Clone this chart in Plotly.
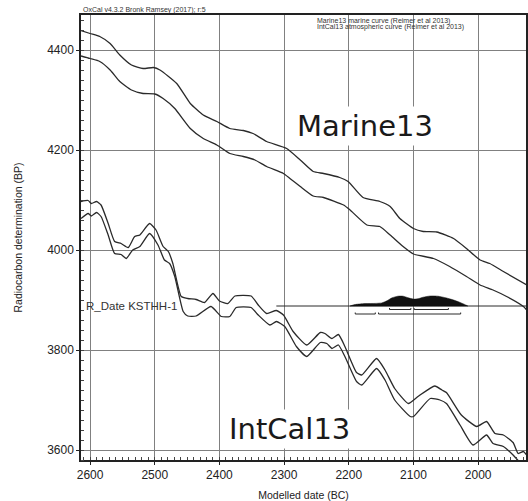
import plotly.graph_objects as go

# ---- data ----
marine_up_date = [2614, 2600, 2585, 2569, 2554, 2536, 2518, 2502, 2492, 2466, 2445, 2425, 2404, 2384, 2363, 2348,
                  2327, 2296, 2275, 2255, 2239, 2214, 2201, 2178, 2152, 2136, 2121, 2100, 2085, 2064, 2038, 2018,
                  1997, 1982, 1961, 1925]
marine_up_bp = [4439, 4433, 4427, 4413, 4390, 4370, 4363, 4365, 4360, 4333, 4293, 4270, 4257, 4243, 4239, 4233,
                4217, 4203, 4180, 4157, 4153, 4145, 4137, 4105, 4097, 4087, 4063, 4043, 4037, 4036, 4023, 4003,
                3980, 3973, 3957, 3930]
marine_lo_date = [2614, 2600, 2585, 2569, 2554, 2536, 2518, 2500, 2487, 2469, 2445, 2425, 2404, 2384, 2363, 2345,
                  2327, 2301, 2291, 2275, 2255, 2239, 2208, 2198, 2172, 2152, 2136, 2116, 2100, 2069, 2044, 2018,
                  1997, 1977, 1956, 1930, 1925]
marine_lo_bp = [4388, 4383, 4377, 4360, 4337, 4320, 4313, 4312, 4303, 4283, 4243, 4223, 4210, 4193, 4187, 4180,
                4167, 4153, 4143, 4127, 4108, 4105, 4090, 4080, 4050, 4047, 4030, 4007, 3992, 3983, 3967, 3947,
                3930, 3920, 3907, 3887, 3880]
intcal_up_date = [2614, 2603, 2598, 2590, 2583, 2572, 2562, 2552, 2541, 2531, 2523, 2508, 2498, 2487, 2479, 2472,
                  2459, 2449, 2436, 2423, 2410, 2400, 2387, 2376, 2351, 2340, 2327, 2312, 2301, 2286, 2265, 2244,
                  2237, 2226, 2216, 2206, 2188, 2180, 2157, 2144, 2129, 2108, 2093, 2067, 2056, 2049, 2026, 2002,
                  1987, 1974, 1961, 1946, 1938, 1930, 1925]
intcal_up_bp = [4097, 4099, 4093, 4097, 4090, 4053, 4017, 4013, 4005, 4027, 4030, 4053, 4040, 4007, 3997, 3973,
                3907, 3903, 3901, 3895, 3913, 3898, 3893, 3908, 3908, 3890, 3873, 3879, 3870, 3837, 3810, 3835,
                3833, 3823, 3831, 3807, 3755, 3750, 3783, 3760, 3723, 3693, 3707, 3728, 3720, 3715, 3670, 3647,
                3657, 3633, 3630, 3615, 3593, 3597, 3590]
intcal_lo_date = [2614, 2603, 2598, 2590, 2583, 2572, 2562, 2552, 2544, 2534, 2523, 2508, 2495, 2485, 2477, 2469,
                  2456, 2449, 2436, 2413, 2397, 2384, 2374, 2351, 2340, 2322, 2312, 2299, 2281, 2265, 2244, 2234,
                  2226, 2216, 2206, 2188, 2180, 2157, 2144, 2129, 2105, 2100, 2074, 2059, 2049, 2028, 2008, 1987,
                  1977, 1961, 1946, 1925]
intcal_lo_bp = [4063, 4073, 4068, 4075, 4067, 4030, 3993, 3991, 3983, 4000, 4007, 4033, 4010, 3980, 3973, 3947,
                3877, 3868, 3868, 3887, 3867, 3867, 3885, 3885, 3870, 3850, 3857, 3847, 3807, 3787, 3815, 3813,
                3803, 3810, 3787, 3737, 3730, 3763, 3740, 3700, 3667, 3667, 3703, 3700, 3693, 3650, 3610, 3630,
                3613, 3607, 3590, 3560]

r_date_bp = 3888
r_date_label = "R_Date KSTHH-1"
r_line_start = 2312
prob_date = [2198, 2190, 2175, 2159, 2149, 2141, 2133, 2124, 2116, 2108, 2100, 2093, 2085, 2074, 2062, 2050,
             2039, 2028, 2019, 2016]
prob_rel = [0.0, 0.15, 0.24, 0.26, 0.31, 0.52, 0.82, 0.98, 0.98, 0.82, 0.69, 0.72, 0.88, 1.0, 0.98, 0.82,
            0.62, 0.36, 0.1, 0.0]
hpd68 = [(2137, 2104), (2099, 2046)]
hpd95 = [(2190, 2159), (2154, 2027)]

x_range = [2614, 1926]
y_range = [3580, 4470]
x_ticks = [2600, 2500, 2400, 2300, 2200, 2100, 2000]
y_ticks = [3600, 3800, 4000, 4200, 4400]

# ---- style ----
LINE = "#2a2a2a"
GRID = "#808080"
FONT = "Liberation Sans, Arial, sans-serif"
PROB_SCALE = 20   # BP height of the distribution peak
ROW68 = 7
ROW95 = 16
TICK = 3

fig = go.Figure()
for xs, ys in [(marine_up_date, marine_up_bp), (marine_lo_date, marine_lo_bp),
               (intcal_up_date, intcal_up_bp), (intcal_lo_date, intcal_lo_bp)]:
    fig.add_trace(go.Scatter(x=xs, y=ys, mode="lines", line=dict(color=LINE, width=1.3, shape="spline", smoothing=0.5),
                             hoverinfo="skip", showlegend=False))

# R_Date horizontal line
fig.add_trace(go.Scatter(x=[r_line_start, x_range[1]], y=[r_date_bp, r_date_bp], mode="lines",
                         line=dict(color=LINE, width=1), showlegend=False, hoverinfo="skip"))

# distribution
px_ = prob_date + prob_date[::-1]
py_ = [r_date_bp + p * PROB_SCALE for p in prob_rel] + [r_date_bp] * len(prob_date)
fig.add_trace(go.Scatter(x=px_, y=py_, fill="toself", fillcolor="#111111", mode="lines",
                         line=dict(color="#111111", width=0.5, shape="spline", smoothing=0.6),
                         showlegend=False, hoverinfo="skip"))

# ranges
for rngs, off in [(hpd68, ROW68), (hpd95, ROW95)]:
    for a, b in rngs:
        yb = r_date_bp - off
        fig.add_trace(go.Scatter(x=[a, a, b, b], y=[yb + TICK, yb, yb, yb + TICK], mode="lines",
                                 line=dict(color=LINE, width=1), showlegend=False, hoverinfo="skip"))

axis_common = dict(showline=True, mirror=True, linecolor="#222", linewidth=1.5,
                   showgrid=True, gridcolor=GRID, gridwidth=1, zeroline=False,
                   ticks="outside", ticklen=3, tickcolor="#222", automargin=False,
                   tickfont=dict(family=FONT, size=12, color="#222"))

fig.update_xaxes(range=x_range, tickvals=x_ticks,
                 minor=dict(dtick=10, ticks="inside", ticklen=3, tickcolor="#444", showgrid=False),
                 title=dict(text="Modelled date (BC)", font=dict(family=FONT, size=10.5, color="#222"),
                            standoff=12),
                 **axis_common)
fig.update_yaxes(range=y_range, tickvals=y_ticks,
                 minor=dict(dtick=20, ticks="inside", ticklen=3, tickcolor="#444", showgrid=False),
                 title=dict(text="Radiocarbon determination (BP)", font=dict(family=FONT, size=10.5, color="#222"),
                            standoff=22),
                 **axis_common)

anns = [
    dict(x=0.0, y=1.0, xref="paper", yref="paper", xanchor="left", yanchor="bottom", yshift=-1,
         text="OxCal v4.3.2 Bronk Ramsey (2017); r:5", font=dict(family=FONT, size=7, color="#333"),
         showarrow=False),
    dict(x=0.5315, y=1.0, xref="paper", yref="paper", xanchor="left", yanchor="middle", yshift=-6, xshift=-3,
         text="Marine13 marine curve (Reimer et al 2013)", font=dict(family=FONT, size=7, color="#333"),
         showarrow=False),
    dict(x=0.5315, y=1.0, xref="paper", yref="paper", xanchor="left", yanchor="middle", yshift=-12, xshift=-3,
         text="IntCal13 atmospheric curve (Reimer et al 2013)", font=dict(family=FONT, size=7, color="#333"),
         showarrow=False),
    dict(x=r_line_start, y=r_date_bp, xref="x", yref="y", xanchor="right", yanchor="middle", xshift=-97,
         text=r_date_label, font=dict(family=FONT, size=11.5, color="#333"), showarrow=False),
    dict(x=2175, y=4248, xref="x", yref="y", text="Marine13", showarrow=False, bgcolor="white",
         borderpad=2, font=dict(family="DejaVu Sans", size=29, color="#1a1a1a")),
    dict(x=2291, y=3642, xref="x", yref="y", text="IntCal13", showarrow=False, bgcolor="white",
         borderpad=2, font=dict(family="DejaVu Sans", size=29, color="#1a1a1a")),
]
fig.update_layout(width=528, height=501, margin=dict(l=81, r=2, t=15, b=41, autoexpand=False),
                  plot_bgcolor="white", paper_bgcolor="white", annotations=anns,
                  showlegend=False)
fig.write_html("out.html", config={"displayModeBar": False},
               post_script="document.body.style.margin='0';document.body.style.padding='0';"
                           "document.body.style.overflow='hidden';")
